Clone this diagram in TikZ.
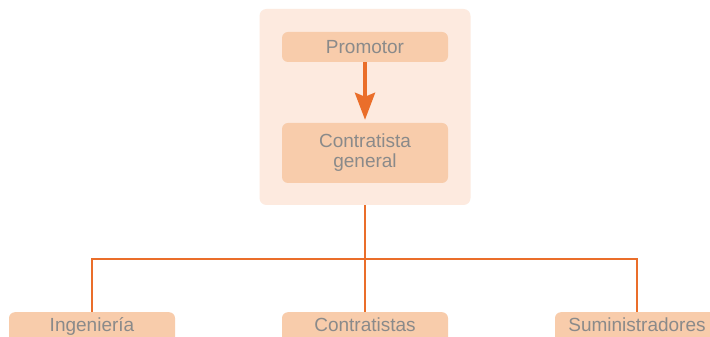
\documentclass[tikz,border=0pt]{standalone}
\usepackage{fontspec}
\setmainfont{Liberation Sans}
\usetikzlibrary{arrows.meta}
\definecolor{bgpale}{HTML}{FDEADF}
\definecolor{boxfill}{HTML}{F8CCAB}
\definecolor{orangeline}{HTML}{EA6E2A}
\definecolor{txtgray}{HTML}{8A8A8A}
\tikzset{
  entity/.style={fill=boxfill, rounded corners=6pt, minimum width=166pt, inner sep=0pt,
    text=txtgray, font=\fontsize{19}{20}\selectfont, align=center},
  label/.style={text=txtgray, font=\fontsize{19}{20}\selectfont, inner sep=0pt, anchor=base},
  conn/.style={draw=orangeline, line width=2.5pt},
}
\begin{document}
\begin{tikzpicture}[x=1pt,y=1pt]
\clip (0,0) rectangle (710,337);
\fill[white] (0,0) rectangle (710,337);
\node[fill=bgpale, rounded corners=7pt, minimum width=211pt, minimum height=196pt, inner sep=0pt] (panel) at (365,230) {};
\node[entity, minimum height=30pt] (prom) at (365,290) {};
\node[label] (promt) at (365,283) {Promotor};
\node[entity, minimum height=60pt] (cg) at (365,184) {};
\node[label] (cgt1) at (365,189) {Contratista};
\node[label] (cgt2) at (365,169) {general};
\node[entity, minimum height=32pt, anchor=north] (ing) at (92,25) {};
\node[entity, minimum height=32pt, anchor=north] (con) at (365,25) {};
\node[entity, minimum height=32pt, anchor=north] (sum) at (638,25) {};
\node[label] (ingt) at (92,5) {Ingeniería};
\node[label] (cont) at (365,5) {Contratistas};
\node[label] (sumt) at (637,5) {Suministradores};
\draw[orangeline, line width=4pt, -{Stealth[width=20pt,length=27pt,inset=4pt]}] (prom.south) -- ([yshift=3pt]cg.north);
\coordinate (hub) at (365,78);
\draw[conn] (panel.south) -- (hub);
\draw[conn] (ing.north) -- (92,78) -- (637,78) -- (sum.north -| 637,0);
\draw[conn] (hub) -- (con.north);
\end{tikzpicture}
\end{document}
